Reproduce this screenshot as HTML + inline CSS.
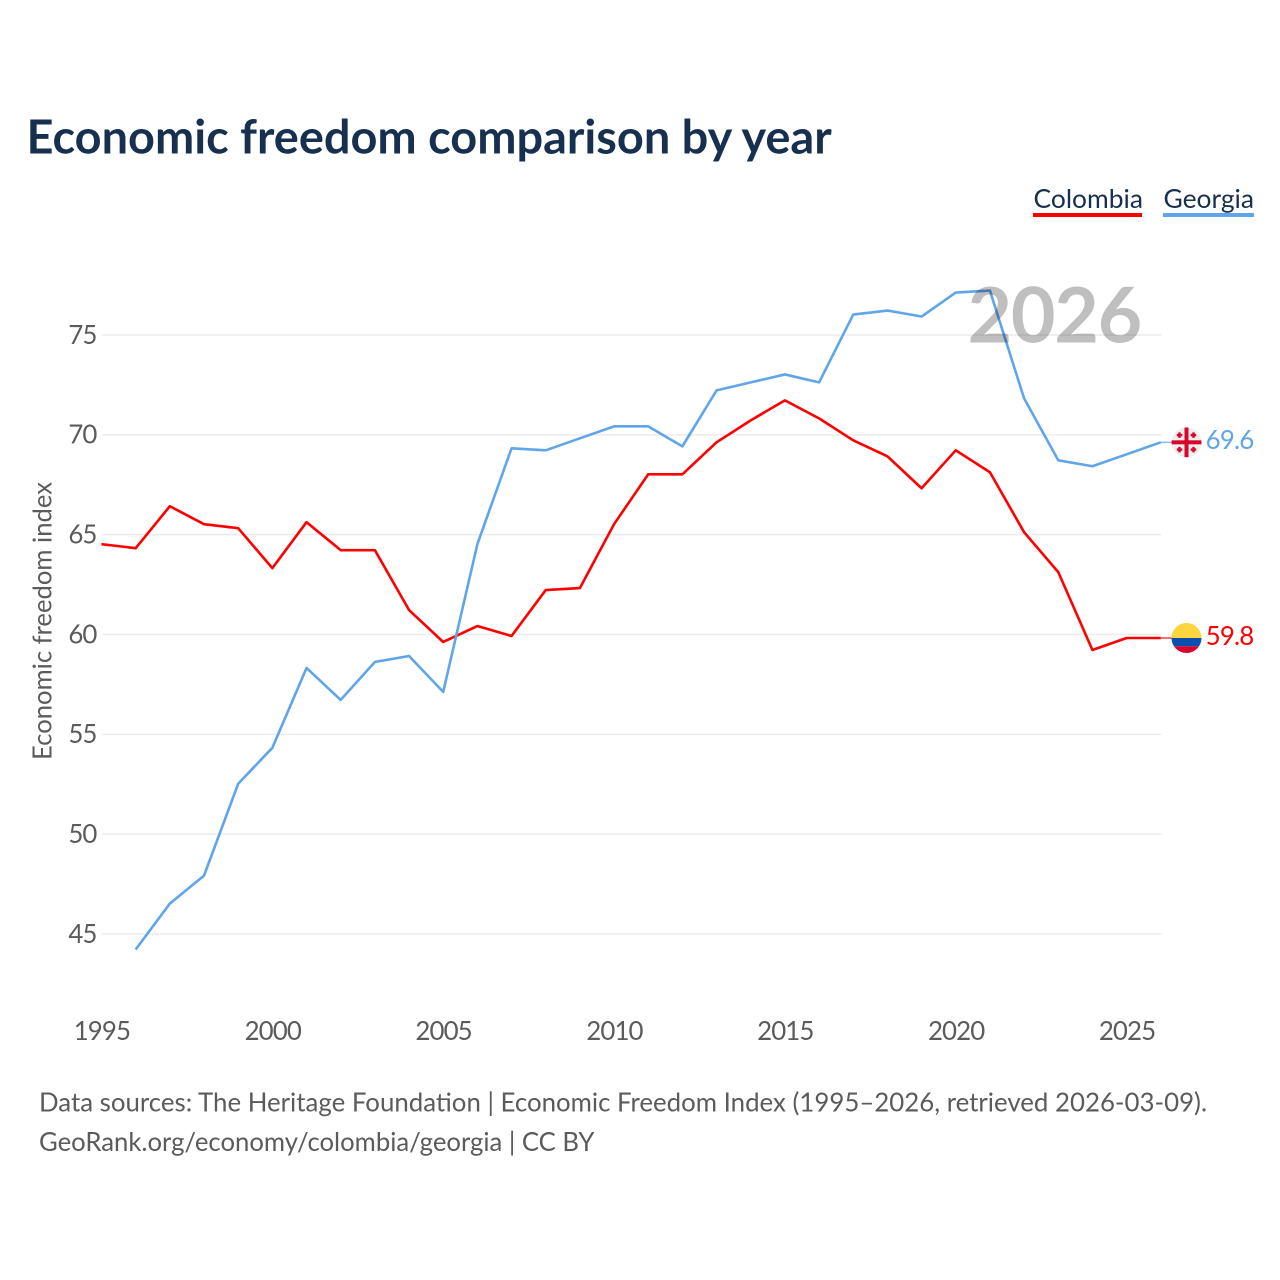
<!DOCTYPE html>
<html lang="en">
<head>
<meta charset="utf-8">
<title>Economic freedom comparison by year</title>
<style>
html,body{margin:0;padding:0;background:#fff}
svg{display:block}
text{font-family:"Lato","Carlito","Liberation Sans",sans-serif}
</style>
</head>
<body>
<svg id="chart" xmlns="http://www.w3.org/2000/svg" width="1280" height="1280" viewBox="0 0 1280 1280">
<rect width="1280" height="1280" fill="#fff"/>
<text x="26.5" y="153.5" font-size="46.9" font-weight="700" fill="#18304f">Economic freedom comparison by year</text>
<g id="grid"></g>
<g id="yticks"></g>
<g id="xticks"></g>
<text transform="translate(51.5,621) rotate(-90)" text-anchor="middle" font-size="25.65" fill="#5b5b5b">Economic freedom index</text>
<g id="series"></g>
<text x="1141" y="342.5" text-anchor="end" font-size="77" font-weight="700" letter-spacing="-1.3" fill="#000000" fill-opacity="0.25">2026</text>
<g>
<text x="1033.5" y="208" font-size="26.4" fill="#18304f">Colombia</text>
<rect x="1033" y="213" width="109" height="4" fill="#ff0000"/>
</g>
<g>
<text x="1163.5" y="208" font-size="26.4" fill="#18304f">Georgia</text>
<rect x="1163" y="213" width="91" height="4" fill="#60a5ea"/>
</g>
<defs>
<clipPath id="flag-clip"><circle cx="0" cy="0" r="15"/></clipPath>
</defs>
<g id="flag-georgia">
<g clip-path="url(#flag-clip)">
<rect x="-15" y="-15" width="30" height="30" fill="#eeeeee"/>
<rect x="-2" y="-15" width="4" height="30" fill="#d8042c"/>
<rect x="-15" y="-2" width="30" height="4" fill="#d8042c"/>
<path d="M-7 -10v5.5M-9.7 -7.2h5.5M7 -10v5.5M4.2 -7.2h5.5M-7 4.5v5.5M-9.7 7.2h5.5M7 4.5v5.5M4.2 7.2h5.5" stroke="#d8042c" stroke-width="2.4" fill="none"/>
</g>
</g>
<g id="flag-colombia">
<g clip-path="url(#flag-clip)">
<rect x="-15" y="-15" width="30" height="15" fill="#fdd53f"/>
<rect x="-15" y="0" width="30" height="8.3" fill="#0a4fb0"/>
<rect x="-15" y="8.3" width="30" height="8" fill="#d8042c"/>
</g>
</g>
<g id="end-labels"></g>
<text x="39" y="1111.5" font-size="25.83" fill="#5b5b5b">Data sources: The Heritage Foundation | Economic Freedom Index (1995–2026, retrieved 2026-03-09).</text>
<text x="39" y="1151" font-size="25.7" fill="#5b5b5b">GeoRank.org/economy/colombia/georgia | CC BY</text>
</svg>
<script>
const years = [1995,1996,1997,1998,1999,2000,2001,2002,2003,2004,2005,2006,2007,2008,2009,2010,2011,2012,2013,2014,2015,2016,2017,2018,2019,2020,2021,2022,2023,2024,2025,2026];
const colombia = [64.5,64.3,66.4,65.5,65.3,63.3,65.6,64.2,64.2,61.2,59.6,60.4,59.9,62.2,62.3,65.5,68.0,68.0,69.6,70.7,71.7,70.8,69.7,68.9,67.3,69.2,68.1,65.1,63.1,59.2,59.8,59.8];
const georgia = [null,44.2,46.5,47.9,52.5,54.3,58.3,56.7,58.6,58.9,57.1,64.5,69.3,69.2,69.8,70.4,70.4,69.4,72.2,72.6,73.0,72.6,76.0,76.2,75.9,77.1,77.2,71.8,68.7,68.4,69.0,69.6];
const yTickValues = [45,50,55,60,65,70,75];
const xTickValues = [1995,2000,2005,2010,2015,2020,2025];

const NS = 'http://www.w3.org/2000/svg';
const xScale = function (year) { return 101.5 + (year - 1995) * 34.17; };
const yScale = function (value) { return 334.5 + (75 - value) * 19.967; };
const X_END = xScale(years[years.length - 1]);

function make(tag, parent, attrs, text) {
  const el = document.createElementNS(NS, tag);
  Object.keys(attrs).forEach(function (k) { el.setAttribute(k, attrs[k]); });
  if (text !== undefined) el.textContent = text;
  parent.appendChild(el);
  return el;
}

const gridG = document.getElementById('grid');
const yG = document.getElementById('yticks');
yTickValues.forEach(function (v) {
  const gy = yScale(v) + 0.5;
  const line = make('line', gridG, {x1: 102, x2: 1161.5, y1: gy, y2: gy, stroke: '#ececec', 'stroke-width': 1.5});
  
  
  const label = make('text', yG, {x: 96.5, y: gy + 8.8, 'text-anchor': 'end', 'font-size': 25.85, 'letter-spacing': -0.9, fill: '#5b5b5b'}, String(v));
  
  
});

const xG = document.getElementById('xticks');
xTickValues.forEach(function (y) {
  const label = make('text', xG, {x: xScale(y) + 0.4, y: 1040, 'text-anchor': 'middle', 'font-size': 25.85, 'letter-spacing': -0.9, fill: '#5b5b5b'}, String(y));
  
  
});

function linePoints(values) {
  const pts = [];
  values.forEach(function (v, i) {
    if (v !== null) pts.push(xScale(years[i]).toFixed(2) + ',' + yScale(v).toFixed(2));
  });
  return pts.join(' ');
}

const seriesG = document.getElementById('series');
const colombiaLine = make('polyline', seriesG, {points: linePoints(colombia), fill: 'none', stroke: '#ff0000', 'stroke-width': 2.6, 'stroke-linejoin': 'round'});


const georgiaLine = make('polyline', seriesG, {points: linePoints(georgia), fill: 'none', stroke: '#60a5ea', 'stroke-width': 2.6, 'stroke-linejoin': 'round'});



function finish(values, color, flagId, seriesName, labelOffset) {
  const last = values[values.length - 1];
  const y = yScale(last);
  const connector = make('line', seriesG, {x1: X_END, x2: 1172, y1: y, y2: y, stroke: color, 'stroke-width': 1.5, opacity: 0.75});
  
  
  document.getElementById(flagId).setAttribute('transform', 'translate(1186.5,' + y.toFixed(2) + ')');
  const label = make('text', document.getElementById('end-labels'), {x: 1253.5, y: y + labelOffset, 'text-anchor': 'end', 'font-size': 25.85, 'letter-spacing': -0.8, fill: color}, last.toFixed(1));
  
  
}
finish(colombia, '#ff0000', 'flag-colombia', 'colombia', 7);
finish(georgia, '#60a5ea', 'flag-georgia', 'georgia', 6.5);
</script>
</body>
</html>
